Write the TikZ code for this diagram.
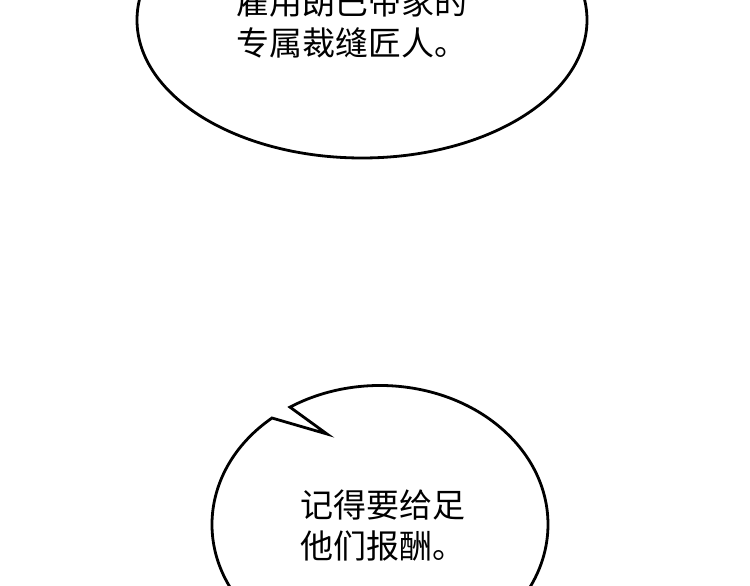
\documentclass[tikz,border=0pt]{standalone}
\usepackage{fontspec}
\newfontfamily\cjk{Noto Sans CJK SC}
\begin{document}
\begin{tikzpicture}[x=1pt,y=-1pt,
	bubble/.style={draw=black,line width=2.8pt,fill=white},
	speech/.style={font=\cjk\fontsize{33}{41}\selectfont,align=left,anchor=north west,inner sep=0pt}]
	\useasboundingbox (0,0) rectangle (750,586);
	\clip (0,0) rectangle (750,586);
	% top bubble
	\draw[bubble] (362,20) ellipse[x radius=225,y radius=138];
	\node[speech] (upper) at (236,-14) {雇用朗巴帝家的\\专属裁缝匠人。};
	% bottom bubble with tail
	\coordinate (tailA) at (272,418);
	\coordinate (tailtip) at (327,434);
	\draw[bubble] (tailA) arc[start angle=-130,end angle=-482.4,x radius=168,y radius=139] -- (tailtip) -- cycle;
	\node[speech] (lower) at (300,490) {记得要给足\\他们报酬。};
\end{tikzpicture}
\end{document}
